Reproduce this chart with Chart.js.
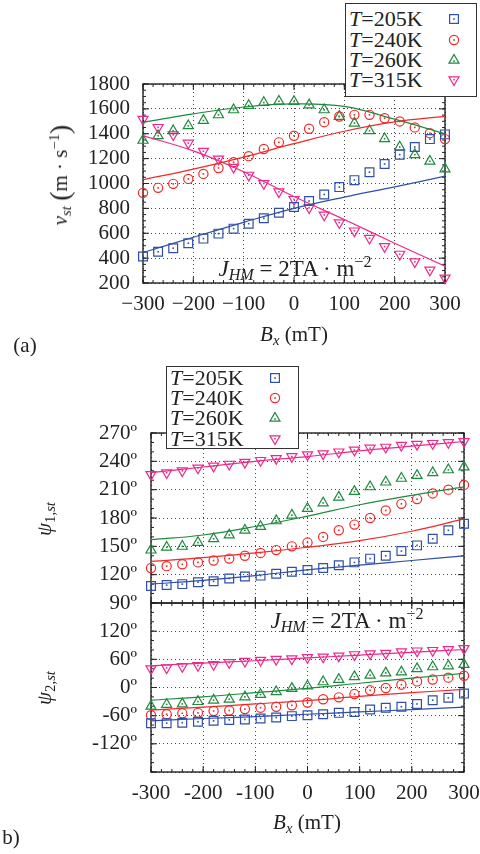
<!DOCTYPE html>
<html><head><meta charset="utf-8">
<script src="https://cdn.jsdelivr.net/npm/chart.js@4.4.1/dist/chart.umd.min.js"></script>
<style>
html,body{margin:0;padding:0;background:#fff;}
body{width:480px;height:854px;position:relative;overflow:hidden;font-family:"Liberation Serif","Times New Roman",serif;color:#222;}
canvas{position:absolute;left:0;top:0;}
.t{position:absolute;white-space:nowrap;font-size:21px;line-height:1;transform:translate(-50%,-50%);}
.rot{transform:translate(-50%,-50%) rotate(-90deg);}
.legend{position:absolute;background:#fff;border:1.3px solid #333;box-sizing:border-box;}
.legend .row{position:absolute;left:3px;font-size:22px;line-height:1;white-space:nowrap;transform:translateY(-50%);}
.legend svg{position:absolute;}
sub{font-size:70%;vertical-align:-0.3em;line-height:0;}
sup{font-size:70%;vertical-align:0.55em;line-height:0;}
.big{font-size:28px;vertical-align:-2px;}
</style></head><body>
<canvas id="ca" width="480" height="854"></canvas>
<canvas id="cb1" width="480" height="854"></canvas>
<canvas id="cb2" width="480" height="854"></canvas>

<div class="t rot" style="left:60px;top:175px;"><i>v</i><sub><i>st</i></sub>&nbsp;<span class="big">(</span>m · s<sup>−1</sup><span class="big">)</span></div>
<div class="t" style="left:294px;top:334px;"><i>B</i><sub><i>x</i></sub> (mT)</div>
<div class="t" style="left:25px;top:345px;">(a)</div>
<div class="t" style="left:295px;top:268px;font-size:23px;"><i>J</i><sub><i>HM</i></sub> = 2TA · m<sup>−2</sup></div>

<div class="t rot" style="left:44px;top:519px;"><i>ψ</i><sub>1,<i>st</i></sub></div>
<div class="t rot" style="left:44px;top:688px;"><i>ψ</i><sub>2,<i>st</i></sub></div>
<div class="t" style="left:347px;top:620px;font-size:23px;"><i>J</i><sub><i>HM</i></sub> = 2TA · m<sup>−2</sup></div>
<div class="t" style="left:307px;top:822px;"><i>B</i><sub><i>x</i></sub> (mT)</div>
<div class="t" style="left:11px;top:837px;">b)</div>

<div class="legend" id="lega" style="left:345px;top:3px;width:132px;height:94px;"></div>
<div class="legend" id="legb" style="left:166px;top:366px;width:133px;height:83px;"></div>

<script>
// ---------------- data ----------------
const temperatures = [205, 240, 260, 315];
const bx = [-300,-270,-240,-210,-180,-150,-120,-90,-60,-30,0,30,60,90,120,150,180,210,240,270,300];
const fitBx = [-300,-200,-100,0,100,200,300];

const xTickLabelsA = ['\u2212300','\u2212200','\u2212100','0','100','200','300'];
const xTickLabelsB = ['-300','-200','-100','0','100','200','300'];
const yTickLabelsA = ['200','400','600','800','1000','1200','1400','1600','1800'];
const yTickLabelsB1 = ['90º','120º','150º','180º','210º','240º','270º'];
const yTickLabelsB2 = ['','-120º','-60º','0º','60º','120º',''];

// panel (a): v_st (m/s)
const vst205 = [413,451,480,520,557,597,637,677,720,765,811,859,912,971,1027,1091,1157,1232,1293,1357,1395];
const vst240 = [925,965,997,1037,1077,1125,1171,1220,1277,1331,1384,1440,1493,1539,1552,1552,1525,1499,1451,1405,1357];
const vst260 = [1347,1384,1424,1464,1507,1552,1592,1627,1651,1661,1659,1632,1592,1539,1485,1424,1360,1293,1232,1179,1117];
const vst315 = [1517,1451,1392,1325,1259,1197,1131,1067,1000,933,872,805,747,685,619,560,493,432,371,304,240];
const vstFit205 = [445,568,688,800,891,973,1059];
const vstFit240 = [1030,1115,1212,1320,1420,1495,1540];
const vstFit260 = [1491,1560,1615,1640,1620,1517,1400];
const vstFit315 = [1385,1262,1095,895,710,520,335];

// panel (b) upper: psi_1,st (deg)
const psi1_205 = [108,109,110,112,113,116,118,119,121,123,125,127,130,133,137,140,145,151,158,167,174];
const psi1_240 = [127,129,131,133,135,137,140,143,146,150,154,160,167,173,180,188,195,200,206,210,215];
const psi1_260 = [146,149,150,154,158,162,167,171,177,183,190,196,202,208,213,218,222,225,228,231,234];
const psi1_315 = [226,228,230,233,235,237,239,241,243,245,247,248,250,252,254,255,257,258,259,260,261];
const psi1Fit205 = [110,114,119,125,130,135,140];
const psi1Fit240 = [134,138,143,149,156,166,179];
const psi1Fit260 = [157,162,171,182,194,204,213];
const psi1Fit315 = [228,234,240,245,251,256,261];

// panel (b) lower: psi_2,st (deg)
const psi2_205 = [-76,-76,-75,-73,-71,-69,-68,-66,-64,-61,-59,-57,-54,-52,-47,-43,-41,-35,-27,-22,-13];
const psi2_240 = [-59,-57,-55,-54,-50,-49,-46,-43,-41,-38,-32,-25,-21,-14,-6,-1,6,13,17,21,25];
const psi2_260 = [-40,-36,-35,-30,-27,-25,-20,-15,-9,-2,3,12,17,23,26,31,33,40,44,46,49];
const psi2_315 = [40,42,45,47,49,53,56,58,60,61,64,65,67,70,72,73,76,78,79,81,83];
const psi2Fit205 = [-71,-66,-62,-57,-52,-47,-42];
const psi2Fit240 = [-48,-42,-35,-28,-19,-11,-4];
const psi2Fit260 = [-27,-20,-11,-2,9,20,30];
const psi2Fit315 = [46,52,57,63,69,75,81];

// ---------------- styles ----------------
const FONT = "'Liberation Serif','Times New Roman',serif";
const COLORS = ['#2f4fa8','#f02828','#1e8a3c','#ec2a8c'];
const STYLES = ['rect','circle','triangle','triangle'];
const ROTS = [0,0,0,180];
const RADII = [6.2,4.6,5.8,5.8];

const framePlugin = {
  id: 'frame',
  beforeDatasetsDraw(chart, args, opts) {
    const {ctx, chartArea: a} = chart;
    const x = chart.scales.x, y = chart.scales.y;
    ctx.save();
    ctx.strokeStyle = '#222';
    ctx.lineWidth = 1;
    ctx.beginPath();
    const ticks = (scale, step, len, isX) => {
      if (!step) return;
      const n = Math.round((scale.max - scale.min) / step);
      for (let k = 0; k <= n; k++) {
        const v = scale.min + k * step;
        const p = scale.getPixelForValue(v);
        if (isX) { ctx.moveTo(p, a.bottom); ctx.lineTo(p, a.bottom - len); ctx.moveTo(p, a.top); ctx.lineTo(p, a.top + len); }
        else { ctx.moveTo(a.left, p); ctx.lineTo(a.left + len, p); ctx.moveTo(a.right, p); ctx.lineTo(a.right - len, p); }
      }
    };
    ticks(x, opts.majorX, 6, true); ticks(x, opts.minorX, 3, true);
    ticks(y, opts.majorY, 6, false); ticks(y, opts.minorY, 3, false);
    ctx.stroke();
    ctx.lineWidth = 1.4;
    ctx.strokeRect(a.left, a.top, a.right - a.left, a.bottom - a.top);
    ctx.restore();
  },
  afterDatasetsDraw(chart) {
    const ctx = chart.ctx;
    ctx.save();
    chart.data.datasets.forEach((ds, i) => {
      if (!ds.centerDot) return;
      ctx.fillStyle = ds.pointBorderColor;
      chart.getDatasetMeta(i).data.forEach(p => { ctx.fillRect(p.x - 0.8, p.y - 0.8, 1.6, 1.6); });
    });
    ctx.restore();
  }
};
Chart.register(framePlugin);

function buildDatasets(points, fits) {
  const ds = [];
  fits.forEach((f, i) => ds.push({
    showLine: true, data: fitBx.map((x, j) => ({x, y: f[j]})),
    borderColor: COLORS[i], borderWidth: 1.2, pointRadius: 0,
    tension: 0.4, fill: false
  }));
  points.forEach((p, i) => ds.push({
    showLine: false, data: bx.map((x, j) => ({x, y: p[j]})),
    pointStyle: STYLES[i], pointRotation: ROTS[i], pointRadius: RADII[i],
    pointBorderColor: COLORS[i], pointBackgroundColor: 'rgba(0,0,0,0)', pointBorderWidth: 1.2,
    borderColor: COLORS[i], clip: false, centerDot: true
  }));
  return ds;
}

function makeChart(id, cfg) {
  const tickFont = {family: FONT, size: 21};
  return new Chart(document.getElementById(id), {
    type: 'scatter',
    data: {datasets: buildDatasets(cfg.points, cfg.fits)},
    options: {
      responsive: false, animation: false, devicePixelRatio: 1,
      layout: {padding: cfg.pad},
      plugins: {legend: {display: false}, tooltip: {enabled: false},
        frame: {majorX: 100, minorX: cfg.minorX, majorY: cfg.ystep, minorY: cfg.minorY}},
      scales: {
        x: {type: 'linear', min: -300, max: 300,
          ticks: {stepSize: 100, autoSkip: false, maxRotation: 0, display: !!cfg.xLabels, padding: 9, color: '#222', font: tickFont,
            callback: (v, i) => cfg.xLabels ? cfg.xLabels[i] : ''},
          grid: {color: '#444', lineWidth: 1, drawTicks: false},
          border: {display: false, dash: [1, 3]},
          afterFit: s => { s.height = cfg.xLabels ? 40 : 0; s.paddingLeft = 0; s.paddingRight = 0; }},
        y: {type: 'linear', min: cfg.ymin, max: cfg.ymax,
          ticks: {stepSize: cfg.ystep, autoSkip: false, padding: cfg.ypad, color: '#222', font: tickFont,
            callback: (v, i) => cfg.yLabels[i]},
          grid: {color: '#444', lineWidth: 1, drawTicks: false},
          border: {display: false, dash: [1, 3]},
          afterFit: s => { s.width = 60; s.paddingTop = 0; s.paddingBottom = 0; }}
      }
    }
  });
}

// (a): area left 143, right 445, top 84, bottom 283
makeChart('ca', {points: [vst205, vst240, vst260, vst315], fits: [vstFit205, vstFit240, vstFit260, vstFit315],
  pad: {left: 83, right: 35, top: 84, bottom: 531}, ymin: 200, ymax: 1800, ystep: 200, ypad: 13,
  yLabels: yTickLabelsA, xLabels: xTickLabelsA, minorX: 20, minorY: 50});
// (b) upper: left 151, right 464, top 433, bottom 603
makeChart('cb1', {points: [psi1_205, psi1_240, psi1_260, psi1_315], fits: [psi1Fit205, psi1Fit240, psi1Fit260, psi1Fit315],
  pad: {left: 91, right: 16, top: 433, bottom: 251}, ymin: 90, ymax: 270, ystep: 30, ypad: 14,
  yLabels: yTickLabelsB1, xLabels: null, minorX: 20, minorY: 10});
// (b) lower: left 151, right 464, top 603, bottom 772
makeChart('cb2', {points: [psi2_205, psi2_240, psi2_260, psi2_315], fits: [psi2Fit205, psi2Fit240, psi2Fit260, psi2Fit315],
  pad: {left: 91, right: 16, top: 603, bottom: 42}, ymin: -180, ymax: 180, ystep: 60, ypad: 14,
  yLabels: yTickLabelsB2, xLabels: xTickLabelsB, minorX: 20, minorY: 20});

// legends
function markerSVG(i) {
  const c = COLORS[i];
  let shape;
  if (STYLES[i] === 'rect') shape = `<rect x="2.6" y="2.6" width="8.8" height="8.8" fill="none" stroke="${c}" stroke-width="1.2"/>`;
  else if (STYLES[i] === 'circle') shape = `<circle cx="7" cy="7" r="4.6" fill="none" stroke="${c}" stroke-width="1.2"/>`;
  else if (ROTS[i] === 0) shape = `<polygon points="7,1.5 12,10.2 2,10.2" fill="none" stroke="${c}" stroke-width="1.2"/>`;
  else shape = `<polygon points="7,12.5 12,3.8 2,3.8" fill="none" stroke="${c}" stroke-width="1.2"/>`;
  return shape + `<rect x="6.2" y="${STYLES[i]==='triangle' ? (ROTS[i]? 5.9 : 7.3) : 6.2}" width="1.6" height="1.6" fill="${c}"/>`;
}
function buildLegend(id, rowTops, markerX) {
  const el = document.getElementById(id);
  temperatures.forEach((t, i) => {
    const row = document.createElement('div');
    row.className = 'row';
    row.style.top = rowTops[i] + 'px';
    row.innerHTML = `<i>T</i>=${t}K`;
    el.appendChild(row);
    const svg = document.createElementNS('http://www.w3.org/2000/svg', 'svg');
    svg.setAttribute('width', 14); svg.setAttribute('height', 14);
    svg.style.left = (markerX - 7) + 'px'; svg.style.top = (rowTops[i] - 7) + 'px';
    svg.innerHTML = markerSVG(i);
    el.appendChild(svg);
  });
}
buildLegend('lega', [15, 35.5, 56, 76], 108);
buildLegend('legb', [11, 31, 51, 71.5], 108);
</script>
</body></html>
